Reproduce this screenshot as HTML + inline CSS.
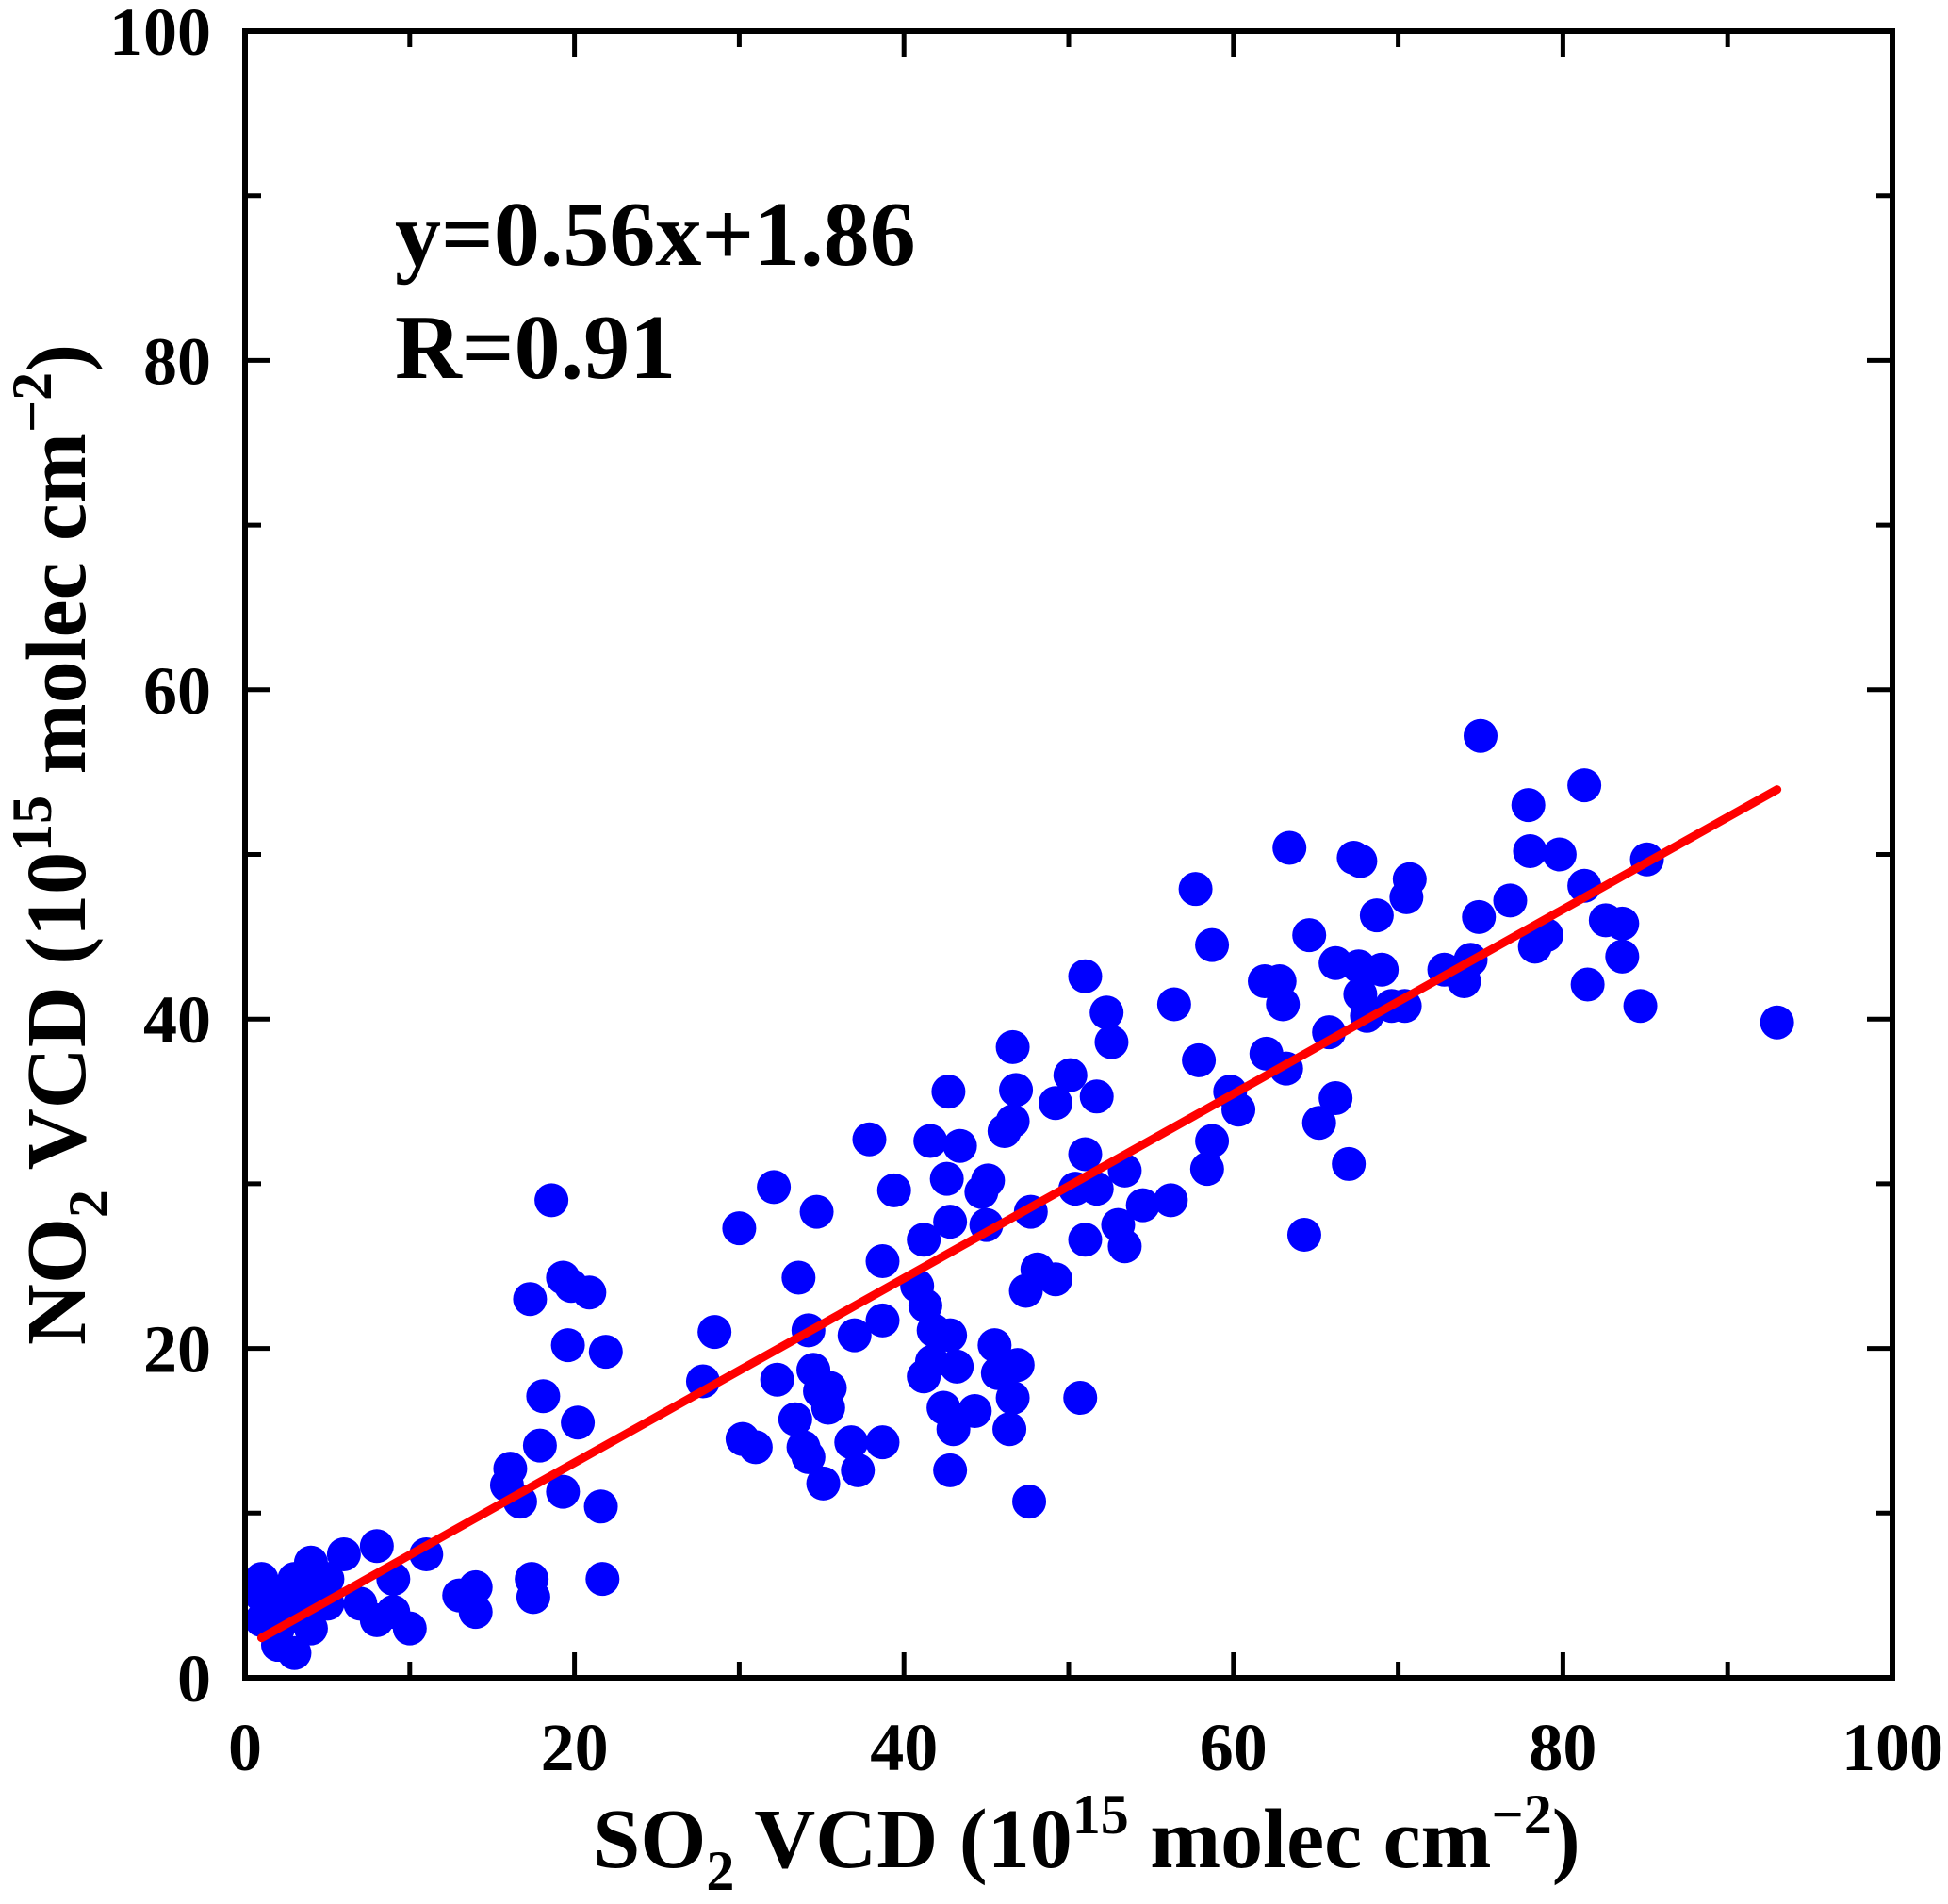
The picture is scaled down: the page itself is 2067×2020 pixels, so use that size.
<!DOCTYPE html>
<html><head><meta charset="utf-8"><style>
html,body{margin:0;padding:0;background:#fff;}
svg{display:block;font-family:"Liberation Serif",serif;font-weight:bold;}
</style></head><body>
<svg id="chart" width="2067" height="2020" viewBox="0 0 2067 2020">
<g id="ticks"></g>
<g id="points"></g>
<g id="fit"></g>
<rect x="260" y="33" width="1748" height="1747" fill="none" stroke="#000" stroke-width="6"/>
<g id="labels"></g>
<text x="419" y="281" font-size="98">y=0.56x+1.86</text>
<text x="419" y="401" font-size="98">R=0.91</text>
<text x="1153" y="1981" font-size="90" text-anchor="middle">SO<tspan font-size="60" dy="24">2</tspan><tspan dy="-24"> VCD (10</tspan><tspan font-size="60" dy="-36">15</tspan><tspan dy="36"> molec cm</tspan><tspan font-size="60" dy="-36">−2</tspan><tspan dy="36">)</tspan></text>
<text transform="translate(90,896) rotate(-90)" font-size="90" text-anchor="middle">NO<tspan font-size="60" dy="24">2</tspan><tspan dy="-24"> VCD (10</tspan><tspan font-size="60" dy="-36">15</tspan><tspan dy="36"> molec cm</tspan><tspan font-size="60" dy="-36">−2</tspan><tspan dy="36">)</tspan></text>
</svg>
<script>
const xTicks = [0, 20, 40, 60, 80, 100];
const yTicks = [0, 20, 40, 60, 80, 100];
const xData = [1,1.5,1,2,3,2,3,3,4,4,5,5,6,2,1,4,7,8,8,9,9,10,11,13,14,14,
17.4,17.5,17.3,18.1,17.9,16.1,15.9,16.7,18.6,19.3,19.8,20.9,19.6,20.2,19.3,21.9,21.6,21.7,
27.8,28.5,30,30.2,31,32.1,32.3,33.6,34.2,33.4,33.9,34.2,34.7,34.5,34.9,35.5,35.4,35.1,36.8,37,37.2,37.9,38.7,38.7,38.7,39.4,
40.8,41.2,41.2,41.3,41.6,41.7,41.8,42.4,42.7,42.6,42.8,42.8,43.2,42.8,43,43.4,44.3,44.7,45.1,45,45.5,45.7,46.1,46.6,46.6,46.8,46.6,46.4,46.9,47.4,47.7,47.6,48.1,49.2,49.2,
50.1,50.7,51,51,51,50.4,51.7,51.7,52.3,52.6,53,53.4,53.4,54.5,56.2,56.4,57.7,57.9,58.4,58.7,58.7,59.8,60.3,
61.9,62,62.8,63,63.2,63.4,64.3,64.6,65.2,65.8,66.2,66.2,67,67.3,67.7,67.6,67.7,68.1,68.7,69,69.6,70.4,70.5,70.7,
72.8,74,74.4,74.9,75,76.8,77.9,78,78.3,79,79.8,81.3,81.3,81.5,82.6,83.6,83.6,84.7,85.1,93];
const yData = [6,4,3.5,2,1.5,5,4,6,7,5,6,4.5,7.5,3,5,3,4.5,8,3.5,6,4,3,7.5,5,4,5.5,
6,4.9,23,17.1,14.1,12.7,11.7,10.7,29,24.3,23.8,23.4,20.2,15.5,11.3,19.8,10.4,6,
18,21,27.3,14.5,14,29.8,18.1,24.3,21.1,15.7,14,13.4,28.3,18.7,17.4,17.6,16.4,11.8,14.3,20.8,12.6,32.7,25.3,21.7,14.3,29.6,
23.8,26.6,18.3,22.6,32.6,19.2,21.1,16.4,35.6,30.3,27.7,20.8,18.9,12.6,15.1,32.3,16.2,29.5,30.2,27.5,20.2,18.5,33.2,33.8,38.3,35.7,17,15.1,19,23.5,28.3,10.7,24.8,24.2,34.9,
36.6,17,42.6,31.8,26.6,29.7,35.3,29.7,40.4,38.6,27.5,26.2,30.8,28.7,29,40.9,47.9,37.5,30.9,44.5,32.6,35.6,34.5,
42.3,37.9,42.3,40.9,37,50.4,26.9,45.1,33.7,39.2,43.4,35.2,31.2,49.8,49.6,43.2,41.5,40.2,46.3,43,40.8,40.8,47.4,48.5,
43,42.3,43.6,46.2,57.2,47.2,53,50.2,44.4,45.1,50,54.2,48.1,42.1,46,45.8,43.8,40.8,49.7,39.8];
const fitSlope = [0.56];
const fitIntercept = [1.86];
const fitRange = [1, 93];

const X0=260,X1=2008,Y0=1780,Y1=33;
const sx = v => X0 + (v-0)/(100-0)*(X1-X0);
const sy = v => Y0 - (v-0)/(100-0)*(Y0-Y1);
const NS='http://www.w3.org/2000/svg';
function mk(tag, attrs, parent){const e=document.createElementNS(NS,tag);for(const k in attrs)e.setAttribute(k,attrs[k]);parent.appendChild(e);return e;}
const tg=document.getElementById('ticks'), lg=document.getElementById('labels');
for(let v=0; v<=100; v+=10){
  const major = v%20===0, L = major?27:17;
  const x=sx(v), y=sy(v);
  let t;
  t=mk('line',{x1:x,y1:Y0,x2:x,y2:Y0-L,stroke:'#000','stroke-width':5},tg);
  
  
  t=mk('line',{x1:x,y1:Y1,x2:x,y2:Y1+L,stroke:'#000','stroke-width':5},tg);
  
  
  t=mk('line',{x1:X0,y1:y,x2:X0+L,y2:y,stroke:'#000','stroke-width':5},tg);
  
  
  t=mk('line',{x1:X1,y1:y,x2:X1-L,y2:y,stroke:'#000','stroke-width':5},tg);
  
  
}
xTicks.forEach(v=>{
  const t=mk('text',{x:sx(v),y:1878,'font-size':72,'text-anchor':'middle'},lg);
  t.textContent=v;
  
  
});
yTicks.forEach(v=>{
  const t=mk('text',{x:224,y:sy(v)+25,'font-size':72,'text-anchor':'end'},lg);
  t.textContent=v;
  
  
});
const pg=document.getElementById('points');
xData.forEach((xv,i)=>{
  const c=mk('circle',{cx:sx(xv),cy:sy(yData[i]),r:18,fill:'#0000ff'},pg);
  
  
});
const fl=mk('line',{x1:sx(fitRange[0]),y1:sy(fitSlope[0]*fitRange[0]+fitIntercept[0]),x2:sx(fitRange[1]),y2:sy(fitSlope[0]*fitRange[1]+fitIntercept[0]),stroke:'#ff0000','stroke-width':9,'stroke-linecap':'round'},document.getElementById('fit'));


</script>
</body></html>
